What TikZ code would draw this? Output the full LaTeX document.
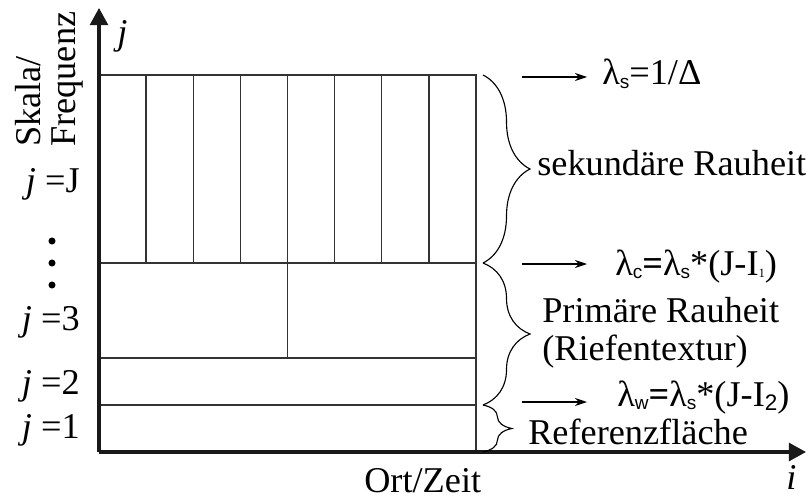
\documentclass[tikz,border=0pt]{standalone}
\usepackage{fontspec}
\setmainfont{Liberation Serif}
\setsansfont{Liberation Sans}
\usetikzlibrary{arrows.meta,decorations.pathreplacing}
\newcommand{\lam}[1]{λ\raisebox{-2.8pt}{\fontsize{13.5}{14}\sffamily #1}}

\begin{document}
\begin{tikzpicture}[
    x=0.025cm, y=-0.025cm,
    font=\fontsize{25.8}{30}\selectfont,
    axis/.style={line width=2.2pt, black!90, -{Triangle[length=4.3mm,width=4.5mm]}},
    grid/.style={line width=1pt, black!80},
    pointer/.style={line width=0.8pt, -{Stealth[length=3mm,width=2mm]}},
    curly/.style={decorate, line width=0.8pt, decoration={brace, amplitude=#1}},
    txt/.style={inner sep=0pt, anchor=base west},
  ]
  \useasboundingbox (0,0) rectangle (806,499);

  \coordinate (o) at (99,452);
  \coordinate (ytop) at (99,8);
  \coordinate (xend) at (806,452);
  \coordinate (tl) at (99,75);
  \coordinate (tr) at (476,75);
  \coordinate (br) at (476,452);

  \draw[grid] (tl) -- (tr) -- (br);
  \foreach \y in {263,358,405}
    \draw[grid] (99,\y) -- (476,\y);
  \foreach \k in {1,...,7}
    \draw[grid] (99+47.125*\k,75) -- (99+47.125*\k,263);
  \draw[grid] (287.5,263) -- (287.5,358);

  \draw[axis] (o) -- (ytop);
  \draw[axis] (o) -- (xend);

  \node[txt] (jlab) at (117,45) {\textit{j}};
  \node[txt] (ilab) at (786,489) {\textit{i}};
  \node[txt] (ort) at (364,492) {Ort/Zeit};
  \node[txt, rotate=90] (skala) at (40,147) {Skala/};
  \node[txt, rotate=90] (freq) at (75,147) {Frequenz};

  \node[txt, anchor=base east] (jJ) at (80,192) {\textit{j} =J};
  \foreach \y in {241,263,285}
    \fill (52,\y) circle (2.5pt);
  \node[txt, anchor=base east] (j3) at (80,330) {\textit{j} =3};
  \node[txt, anchor=base east] (j2) at (80,394) {\textit{j} =2};
  \node[txt, anchor=base east] (j1) at (80,438) {\textit{j} =1};

  \draw[curly=1.175cm] (483,75) -- (483,263);
  \draw[curly=1.175cm] (483,263) -- (483,405);
  \draw[curly=0.72cm] (483,405) -- (483,452);

  \node[txt] (ls) at (602,85) {\lam{s}=1/Δ};
  \node[txt] (sek) at (537,175) {sekundäre Rauheit};
  \node[txt] (lc) at (615,275)
    {\lam{c}\textbf{=}\lam{s}*(J-I\raisebox{-2pt}{\fontsize{9}{10}\selectfont 1})};
  \node[txt] (prim) at (542,322) {Primäre Rauheit};
  \node[txt] (rief) at (542,360) {(Riefentextur)};
  \node[txt] (lw) at (617,406)
    {\lam{w}\textbf{=}\lam{s}*(J-I\raisebox{-3pt}{\fontsize{16}{16}\sffamily 2})};
  \node[txt] (ref) at (528,444) {Referenzfläche};

  \coordinate (ps) at (522,77);
  \coordinate (pc) at (522,264);
  \coordinate (pw) at (522,402);
  \foreach \p in {ps,pc,pw}
    \draw[pointer] (\p) -- ++(65,0);
\end{tikzpicture}
\end{document}
